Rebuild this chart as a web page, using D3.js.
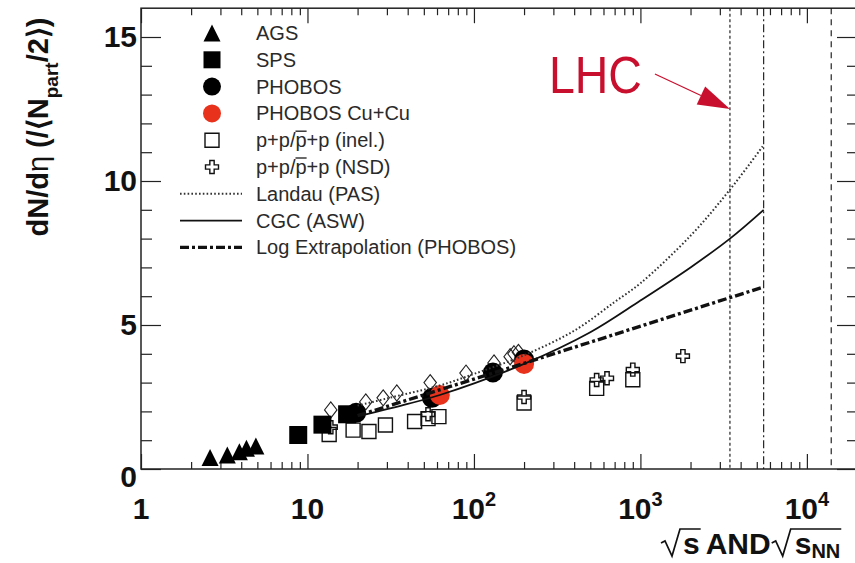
<!DOCTYPE html>
<html>
<head>
<meta charset="utf-8">
<script src="https://cdn.jsdelivr.net/npm/d3@7"></script>
<style>
  body { margin: 0; background: #fff; }
  svg text { font-family: "Liberation Sans", Arial, Helvetica, sans-serif; }
</style>
</head>
<body>
<svg id="chart" width="855" height="563"></svg>
<script>
// ---- data ----
var agsEnergy = [2.6, 3.3, 3.9, 4.3, 4.9];
var agsValue = [0.4, 0.49, 0.6, 0.72, 0.8];

var spsEnergy = [8.8, 12.3, 17.3];
var spsValue = [1.18, 1.54, 1.9];

var phobosEnergy = [19.6, 56, 130, 200];
var phobosValue = [1.95, 2.47, 3.35, 3.8];

var cuEnergy = [62.4, 200];
var cuValue = [2.57, 3.65];

var ppInelEnergy = [13.5, 18.8, 23.4, 29.4, 44, 53, 61.6, 200, 546, 900];
var ppInelValue = [1.2, 1.35, 1.3, 1.53, 1.65, 1.75, 1.82, 2.29, 2.8, 3.1];

var ppNsdEnergy = [13.8, 53, 200, 546, 630, 900, 1800];
var ppNsdValue = [1.45, 1.9, 2.5, 3.09, 3.15, 3.45, 3.92];

// open diamonds, no legend entry
var diamondEnergy = [13.8, 22.4, 28.5, 34.4, 54.6, 89.6, 132, 165, 174, 185];
var diamondValue = [2.05, 2.33, 2.47, 2.64, 3.0, 3.33, 3.68, 3.9, 4.0, 4.05];

var landauEnergy = [20, 30, 62.4, 100, 200, 400, 700, 1000, 2000, 3450, 5500];
var landauValue = [2.2, 2.45, 2.9, 3.3, 3.95, 4.8, 5.8, 6.45, 8.1, 9.7, 11.25];

var cgcEnergy = [21, 40, 62.4, 200, 500, 1000, 2000, 3450, 5500];
var cgcValue = [1.85, 2.26, 2.57, 3.65, 4.75, 5.85, 7.0, 8.0, 9.0];

var logEnergy = [20, 200, 3450, 5500];
var logValue = [1.85, 3.67, 5.95, 6.32];

var lhcEnergy = [3450, 5500, 14000];

var xTickValues = [1, 10, 100, 1000, 10000];
var xTickLabels = ["1", "10", "10^2", "10^3", "10^4"];
var yTickValues = [0, 5, 10, 15];

var legendLabels = ["AGS", "SPS", "PHOBOS", "PHOBOS Cu+Cu", "p+p/p+p (inel.)",
  "p+p/p+p (NSD)", "Landau (PAS)", "CGC (ASW)", "Log Extrapolation (PHOBOS)"];

// ---- scales ----
var svg = d3.select("#chart");
var x = d3.scaleLog().domain([1, 2e4]).range([141, 857]);
var y = d3.scaleLinear().domain([0, 16]).range([469, 8.2]);

function pairs(a, b) { return a.map(function (d, i) { return [d, b[i]]; }); }

var shapes = {
  triangle: function (s) { return "M0," + (-s / 2) + "L" + (s / 2) + "," + (s / 2) + "L" + (-s / 2) + "," + (s / 2) + "Z"; },
  square: function (s) { return "M" + (-s / 2) + "," + (-s / 2) + "h" + s + "v" + s + "h" + (-s) + "Z"; },
  diamond: function (s) { return "M0," + (-s * 0.62) + "L" + (s * 0.48) + ",0L0," + (s * 0.62) + "L" + (-s * 0.48) + ",0Z"; },
  circle: function (s) { var r = s / 2; return "M" + r + ",0A" + r + "," + r + " 0 1,1 " + (-r) + ",0A" + r + "," + r + " 0 1,1 " + r + ",0Z"; },
  cross: function (s) {
    var a = s / 2, b = s / 6;
    return "M" + (-b) + "," + (-a) + "h" + (2 * b) + "v" + (a - b) + "h" + (a - b) + "v" + (2 * b) + "h" + (b - a) +
      "v" + (a - b) + "h" + (-2 * b) + "v" + (b - a) + "h" + (b - a) + "v" + (-2 * b) + "h" + (a - b) + "Z";
  }
};

// ---- frame and ticks ----
var majorX = xTickValues;
var minorX = x.ticks().filter(function (d) { return majorX.indexOf(d) < 0; });
var majorY = yTickValues;
var minorY = d3.range(0, 16, 1).filter(function (d) { return d % 5 !== 0; });

function ticks(axisFn, scale, vals, size, tr) {
  svg.append("g").attr("transform", tr)
    .call(axisFn(scale).tickValues(vals).tickSizeInner(-size).tickSizeOuter(0).tickFormat(function () { return ""; }))
    .call(function (g) { g.select(".domain").remove(); })
    .selectAll("line").attr("stroke", "#222").attr("stroke-width", 1.2);
}
ticks(d3.axisBottom, x, minorX, 7, "translate(0," + y(0) + ")");
ticks(d3.axisBottom, x, majorX, 15, "translate(0," + y(0) + ")");
ticks(d3.axisTop, x, minorX, 7, "translate(0," + y(16) + ")");
ticks(d3.axisTop, x, majorX, 15, "translate(0," + y(16) + ")");
ticks(d3.axisLeft, y, minorY, 11, "translate(" + x(1) + ",0)");
ticks(d3.axisLeft, y, majorY, 20, "translate(" + x(1) + ",0)");
ticks(d3.axisRight, y, minorY, 10, "translate(" + x(2e4) + ",0)");
ticks(d3.axisRight, y, majorY, 20, "translate(" + x(2e4) + ",0)");

svg.append("rect")
  .attr("x", x(1)).attr("y", y(16))
  .attr("width", x(2e4) - x(1)).attr("height", y(0) - y(16))
  .attr("fill", "none").attr("stroke", "#222").attr("stroke-width", 1.5);

// tick labels
svg.selectAll(".ylab").data(yTickValues).enter().append("text")
  .attr("class", "ylab")
  .attr("x", x(1) - 4)
  .attr("y", function (d) { return y(d) + (d === 0 ? 18 : 10); })
  .attr("text-anchor", "end")
  .attr("font-size", 30).attr("font-weight", "bold").attr("fill", "#111")
  .text(function (d) { return d; });

var xl = svg.selectAll(".xlab").data(xTickValues).enter().append("text")
  .attr("class", "xlab")
  .attr("x", function (d) { return x(d); })
  .attr("y", 519)
  .attr("text-anchor", "middle")
  .attr("font-size", 30).attr("font-weight", "bold").attr("fill", "#111");
xl.each(function (d, i) {
  var parts = xTickLabels[i].split("^");
  var t = d3.select(this);
  t.append("tspan").text(parts[0]);
  if (parts[1]) t.append("tspan").attr("dy", -13).attr("font-size", 20).text(parts[1]);
});

// y title
var ytitle = svg.append("text")
  .attr("transform", "translate(48,127) rotate(-90)")
  .attr("text-anchor", "middle")
  .attr("font-size", 29).attr("font-weight", "bold").attr("fill", "#111");
ytitle.append("tspan").text("dN/d");
ytitle.append("tspan").attr("font-weight", "normal").text("η");
ytitle.append("tspan").text(" (/⟨N");
ytitle.append("tspan").attr("dy", 10).attr("font-size", 19).text("part");
ytitle.append("tspan").attr("dy", -10).text("/2⟩)");

// x title: sqrt(s) AND sqrt(s_NN), radicals drawn as paths
(function () {
  var tx = 661, by = 554, fs = 30;
  function piece(str, size, dy) {
    var t = svg.append("text").attr("x", tx).attr("y", by + (dy || 0))
      .attr("font-size", size).attr("font-weight", "bold").attr("fill", "#111").text(str);
    tx += t.node().getComputedTextLength();
  }
  function radical(x0, x1) {
    var top = by - 25;
    svg.append("path")
      .attr("d", "M" + x0 + "," + (by - 11) + "L" + (x0 + 4) + "," + (by - 13) + "L" + (x0 + 11) + "," + (by + 2) +
        "L" + (x0 + 19) + "," + top + "L" + x1 + "," + top)
      .attr("fill", "none").attr("stroke", "#111").attr("stroke-width", 1.7);
  }
  var r1 = tx; tx += 22;
  piece("s", fs);
  radical(r1, tx + 1);
  tx += 6;
  piece("AND", fs);
  var r2 = tx + 1; tx += 24;
  piece("s", fs);
  piece("NN", 20, 4);
  radical(r2, tx + 1);
})();

// ---- LHC vertical lines ----
var lhcDash = ["3,2.5", "8,3,2,3", "6,5"];
svg.selectAll(".lhc").data(lhcEnergy).enter().append("line")
  .attr("x1", function (d) { return x(d); }).attr("x2", function (d) { return x(d); })
  .attr("y1", y(16)).attr("y2", y(0))
  .attr("stroke", "#111").attr("stroke-width", 1.1)
  .attr("stroke-dasharray", function (d, i) { return lhcDash[i]; });

// ---- markers ----
var series = [
  { e: diamondEnergy, v: diamondValue, shape: "diamond", size: 13, fill: "none", stroke: "#222", sw: 1.1 },
  { e: ppInelEnergy, v: ppInelValue, shape: "square", size: 14, fill: "none", stroke: "#111", sw: 1.4 },
  { e: ppNsdEnergy, v: ppNsdValue, shape: "cross", size: 13, fill: "none", stroke: "#111", sw: 1.4 },
  { e: agsEnergy, v: agsValue, shape: "triangle", size: 17, fill: "#000", stroke: "none", sw: 0 },
  { e: spsEnergy, v: spsValue, shape: "square", size: 18, fill: "#000", stroke: "none", sw: 0 },
  { e: phobosEnergy, v: phobosValue, shape: "circle", size: 20, fill: "#000", stroke: "none", sw: 0 },
  { e: cuEnergy, v: cuValue, shape: "circle", size: 20, fill: "#e8321c", stroke: "none", sw: 0 }
];
series.forEach(function (s) {
  svg.append("g").selectAll("path").data(pairs(s.e, s.v)).enter().append("path")
    .attr("transform", function (d) { return "translate(" + x(d[0]) + "," + y(d[1]) + ")"; })
    .attr("d", shapes[s.shape](s.size))
    .attr("fill", s.fill).attr("stroke", s.stroke).attr("stroke-width", s.sw);
});

// ---- curves ----
var smooth = d3.line().x(function (d) { return x(d[0]); }).y(function (d) { return y(d[1]); }).curve(d3.curveCatmullRom.alpha(0.5));
var straight = d3.line().x(function (d) { return x(d[0]); }).y(function (d) { return y(d[1]); });
var curves = [
  { d: pairs(landauEnergy, landauValue), gen: smooth, color: "#333", w: 2, dash: "1.6,2.2" },
  { d: pairs(cgcEnergy, cgcValue), gen: smooth, color: "#111", w: 1.8, dash: null },
  { d: pairs(logEnergy, logValue), gen: straight, color: "#111", w: 3.4, dash: "9,3,3,3" }
];
curves.forEach(function (c) {
  svg.append("path").attr("d", c.gen(c.d))
    .attr("fill", "none").attr("stroke", c.color).attr("stroke-width", c.w)
    .attr("stroke-dasharray", c.dash);
});

// ---- LHC label and arrow ----
var tipX = x(lhcEnergy[0]), tipY = y(12.5);
var tailX = tipX - 75, tailY = tipY - 35;
var red = "#c8102e";
svg.append("text").attr("x", tipX - 181).attr("y", tipY - 16)
  .attr("font-size", 51).attr("fill", red)
  .attr("textLength", 93).attr("lengthAdjust", "spacingAndGlyphs")
  .text("LHC");
(function () {
  var dx = tipX - tailX, dy = tipY - tailY, L = Math.sqrt(dx * dx + dy * dy);
  var ux = dx / L, uy = dy / L, hl = 32, hw = 10;
  var bx = tipX - ux * hl, by = tipY - uy * hl;
  svg.append("line").attr("x1", tailX).attr("y1", tailY).attr("x2", bx).attr("y2", by)
    .attr("stroke", red).attr("stroke-width", 1.3);
  svg.append("path")
    .attr("d", "M" + tipX + "," + tipY + "L" + (bx - uy * hw) + "," + (by + ux * hw) + "L" + (bx + uy * hw) + "," + (by - ux * hw) + "Z")
    .attr("fill", red);
})();

// ---- legend ----
var legendKinds = [
  { shape: "triangle", size: 17, fill: "#000" },
  { shape: "square", size: 17, fill: "#000" },
  { shape: "circle", size: 18, fill: "#000" },
  { shape: "circle", size: 18, fill: "#e8321c" },
  { shape: "square", size: 14, fill: "none", stroke: "#111" },
  { shape: "cross", size: 13, fill: "none", stroke: "#111" },
  { line: curves[0] },
  { line: curves[1] },
  { line: curves[2] }
];
var leg = svg.append("g");
legendLabels.forEach(function (lab, i) {
  var ry = 33 + i * 26.8;
  var k = legendKinds[i];
  if (k.line) {
    leg.append("line").attr("x1", 180).attr("x2", 242).attr("y1", ry).attr("y2", ry)
      .attr("stroke", k.line.color).attr("stroke-width", k.line.w).attr("stroke-dasharray", k.line.dash);
  } else {
    leg.append("path").attr("transform", "translate(212," + ry + ")")
      .attr("d", shapes[k.shape](k.size))
      .attr("fill", k.fill).attr("stroke", k.stroke || "none").attr("stroke-width", 1.4);
  }
  var t = leg.append("text").attr("x", 256).attr("y", ry + 7)
    .attr("font-size", 20).attr("fill", "#2a2a2a").text(lab);
  if (i === 4 || i === 5) {
    var n = t.node();
    leg.append("line")
      .attr("x1", n.getStartPositionOfChar(4).x).attr("x2", n.getEndPositionOfChar(4).x)
      .attr("y1", ry - 9).attr("y2", ry - 9)
      .attr("stroke", "#2a2a2a").attr("stroke-width", 1.4);
  }
});
</script>
</body>
</html>
